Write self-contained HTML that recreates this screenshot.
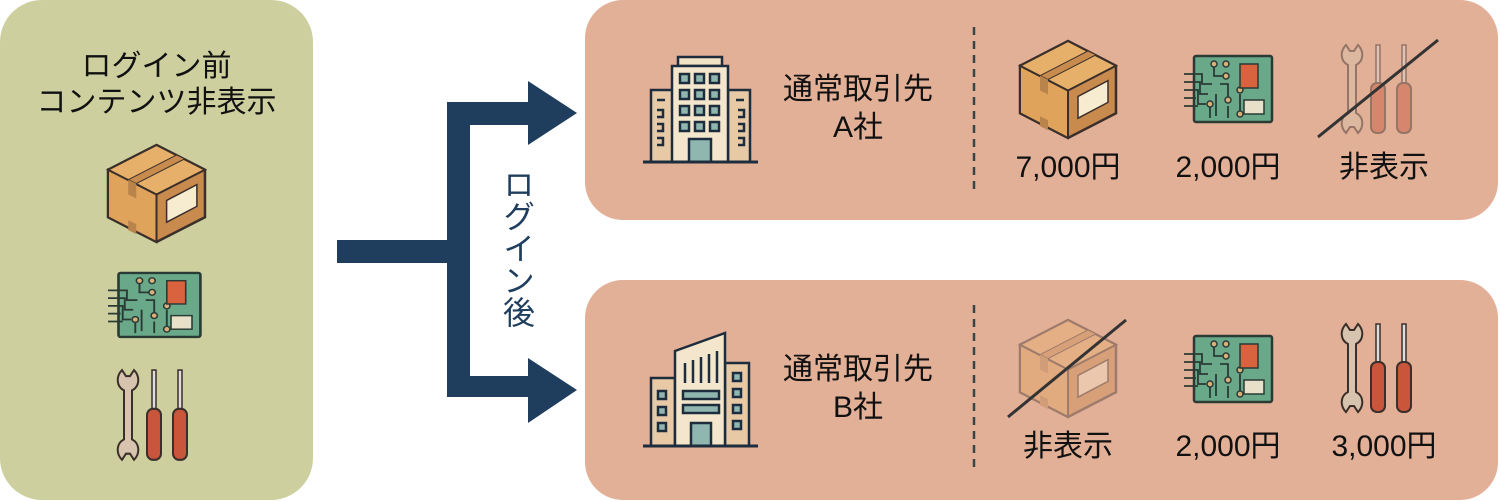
<!DOCTYPE html>
<html><head><meta charset="utf-8"><style>
html,body{margin:0;padding:0;background:#fff;}
body{width:1500px;height:501px;position:relative;overflow:hidden;font-family:"Liberation Sans","Noto Sans CJK JP",sans-serif;}
.t{position:absolute;color:#111;font-size:30px;line-height:1;white-space:nowrap;text-align:center;}
svg{position:absolute;left:0;top:0;}
</style></head><body>
<svg width="1500" height="501" viewBox="0 0 1500 501">
<defs>
<g id="box">
<polygon points="50,2 98,27 98,75 50,100 2,75 2,27" fill="#c98a4e" stroke="#3a2f2a" stroke-width="2.5"/>
<polygon points="2,27 50,52 50,100 2,75" fill="#e0a35c" stroke="#3a2f2a" stroke-width="2"/>
<polygon points="50,2 98,27 50,52 2,27" fill="#e7b06a" stroke="#3a2f2a" stroke-width="2"/>
<polygon points="22,37 70,12 78,16 30,41" fill="#c98a4e" stroke="#3a2f2a" stroke-width="1"/>
<polygon points="22,37 30,41 30,56 22,52" fill="#b9834c"/>
<polygon points="22,78 30,82 30,92 22,88" fill="#b9834c"/>
<polygon points="60,58 90,42 90,64 60,80" fill="#f8ecd0" stroke="#3a2f2a" stroke-width="1.5"/>
</g>
<g id="pcb">
<rect x="10" y="2" width="78" height="66" fill="#6aa88a" stroke="#2a3a35" stroke-width="2.5" rx="2"/>
<g stroke="#2a3a35" stroke-width="1.8" fill="none">
<path d="M0,20H18V30H28M0,28H16V40H24M0,36H14V50H22M0,44H12M0,52H14M30,10V22H40M36,30H44V46M26,50V64M32,40V62M44,52V64M56,40V60"/>
</g>
<g fill="#d9b07a" stroke="#2a3a35" stroke-width="1.5">
<circle cx="30" cy="10" r="3"/><circle cx="42" cy="10" r="3"/><circle cx="42" cy="22" r="3"/>
<circle cx="44" cy="46" r="3"/><circle cx="26" cy="50" r="3"/><circle cx="56" cy="36" r="3"/><circle cx="56" cy="60" r="3"/>
</g>
<rect x="56" y="10" width="18" height="24" fill="#d9623f" stroke="#2a3a35" stroke-width="1.5"/>
<rect x="60" y="46" width="20" height="14" fill="#e8e0c8" stroke="#2a3a35" stroke-width="1.5"/>
</g>
<g id="tools">
<path d="M6,2 C0,8 0,18 8,22 L8,70 C0,74 0,84 6,90 L10,84 L14,84 L18,90 C24,84 24,74 16,70 L16,22 C24,18 24,8 18,2 L14,8 L10,8 Z" fill="#d8c4ae" stroke="#3a2f2a" stroke-width="2"/>
<rect x="36" y="2" width="4" height="40" fill="#ddd" stroke="#3a2f2a" stroke-width="1.5"/>
<rect x="31" y="40" width="14" height="50" rx="6" fill="#c9553a" stroke="#3a2f2a" stroke-width="2"/>
<rect x="62" y="2" width="4" height="40" fill="#ddd" stroke="#3a2f2a" stroke-width="1.5"/>
<rect x="57" y="40" width="14" height="50" rx="6" fill="#c9553a" stroke="#3a2f2a" stroke-width="2"/>
</g>
<g id="bldA">
<rect x="8" y="33" width="22" height="72" fill="#e7c9a6" stroke="#1e2d3d" stroke-width="2.5"/>
<rect x="85" y="33" width="22" height="72" fill="#e7c9a6" stroke="#1e2d3d" stroke-width="2.5"/>
<rect x="35" y="0" width="44" height="9" fill="#f2e2c4" stroke="#1e2d3d" stroke-width="2.5"/>
<rect x="29" y="9" width="56" height="96" fill="#f4e6cc" stroke="#1e2d3d" stroke-width="2.5"/>
<g fill="#8fb7b0" stroke="#1e2d3d" stroke-width="2.5">
<rect x="37" y="17" width="9" height="9"/><rect x="52" y="17" width="9" height="9"/><rect x="67" y="17" width="9" height="9"/>
<rect x="37" y="33" width="9" height="9"/><rect x="52" y="33" width="9" height="9"/><rect x="67" y="33" width="9" height="9"/>
<rect x="37" y="49" width="9" height="9"/><rect x="52" y="49" width="9" height="9"/><rect x="67" y="49" width="9" height="9"/>
<rect x="37" y="65" width="9" height="9"/><rect x="52" y="65" width="9" height="9"/><rect x="67" y="65" width="9" height="9"/>
<rect x="46" y="82" width="22" height="23"/>
</g>
<g stroke="#1e2d3d" stroke-width="2.5" fill="none"><path d="M14,43H22M14,53H20V60H14M14,67H20V74H14M14,81H20V88H14M93,43H101M95,53H101V60H95M95,67H101V74H95M95,81H101V88H95"/></g>
<line x1="0" y1="105" x2="115" y2="105" stroke="#1e2d3d" stroke-width="3"/>
</g>
<g id="bldB">
<rect x="8" y="45" width="24" height="68" fill="#e7c9a6" stroke="#1e2d3d" stroke-width="2.5"/>
<rect x="82" y="30" width="24" height="83" fill="#e7c9a6" stroke="#1e2d3d" stroke-width="2.5"/>
<polygon points="32,18 82,0 82,113 32,113" fill="#f4e6cc" stroke="#1e2d3d" stroke-width="2.5"/>
<g stroke="#1e2d3d" stroke-width="2.5"><path d="M42,30V50M50,27V50M58,24V50M66,21V50M74,18V50"/></g>
<g fill="#8fb7b0" stroke="#1e2d3d" stroke-width="2.5">
<rect x="40" y="58" width="36" height="8"/><rect x="40" y="72" width="36" height="8"/><rect x="48" y="90" width="20" height="23"/>
<rect x="15" y="58" width="8" height="8"/><rect x="15" y="74" width="8" height="8"/><rect x="15" y="90" width="8" height="8"/>
<rect x="90" y="40" width="8" height="8"/><rect x="90" y="56" width="8" height="8"/><rect x="90" y="72" width="8" height="8"/><rect x="90" y="88" width="8" height="8"/>
</g>
<line x1="0" y1="113" x2="115" y2="113" stroke="#1e2d3d" stroke-width="3"/>
</g>
</defs>
<rect x="0" y="0" width="313" height="500" rx="42" fill="#cdd09e"/>
<rect x="585" y="0" width="913" height="220" rx="38" fill="#e2af97"/>
<rect x="585" y="280" width="913" height="220" rx="38" fill="#e2af97"/>
<!-- arrow -->
<g fill="#1f3e5e">
<rect x="337" y="240" width="122" height="23"/>
<rect x="447" y="102" width="23" height="295"/>
<rect x="447" y="102" width="84" height="23"/>
<polygon points="528,81 577,113 528,145"/>
<rect x="447" y="376" width="84" height="21"/>
<polygon points="528,358 577,390 528,423"/>
</g>
<line x1="974" y1="27" x2="974" y2="195" stroke="#3a4548" stroke-width="2.5" stroke-dasharray="8,6"/>
<line x1="974" y1="305" x2="974" y2="473" stroke="#3a4548" stroke-width="2.5" stroke-dasharray="8,6"/>
<use href="#box" transform="translate(106,143) scale(1.01,0.99)"/>
<use href="#pcb" transform="translate(108,271) scale(1.05,0.97)"/>
<use href="#tools" transform="translate(116,368) scale(1.0,1.02)"/>
<use href="#bldA" transform="translate(643,57)"/>
<use href="#bldB" transform="translate(643,333)"/>
<use href="#box" transform="translate(1018,39) scale(1,0.99)"/>
<use href="#pcb" transform="translate(1184,54) scale(1.0,1.0)"/>
<g opacity="0.45"><use href="#tools" transform="translate(1340,43) scale(1,1)"/></g>
<line x1="1318" y1="137" x2="1438" y2="40" stroke="#333" stroke-width="3"/>
<g opacity="0.4"><use href="#box" transform="translate(1018,318) scale(1,0.99)"/></g>
<line x1="1008" y1="417" x2="1126" y2="320" stroke="#333" stroke-width="3"/>
<use href="#pcb" transform="translate(1184,334) scale(1.0,1.0)"/>
<use href="#tools" transform="translate(1340,322) scale(1,1)"/>
</svg>
<div class="t" style="left:0;width:313px;top:52px;">ログイン前</div>
<div class="t" style="left:0;width:313px;top:88px;">コンテンツ非表示</div>
<div class="t" style="left:497px;width:36px;top:168px;color:#1f3e5e;font-size:32px;writing-mode:vertical-rl;">ログイン後</div>
<div class="t" style="left:770px;width:176px;top:75px;">通常取引先</div>
<div class="t" style="left:770px;width:176px;top:113px;">A社</div>
<div class="t" style="left:770px;width:176px;top:355px;">通常取引先</div>
<div class="t" style="left:770px;width:176px;top:393px;">B社</div>
<div class="t" style="left:1008px;width:120px;top:153px;">7,000円</div>
<div class="t" style="left:1168px;width:120px;top:153px;">2,000円</div>
<div class="t" style="left:1324px;width:120px;top:153px;">非表示</div>
<div class="t" style="left:1008px;width:120px;top:432px;">非表示</div>
<div class="t" style="left:1168px;width:120px;top:432px;">2,000円</div>
<div class="t" style="left:1324px;width:120px;top:432px;">3,000円</div>
</body></html>
